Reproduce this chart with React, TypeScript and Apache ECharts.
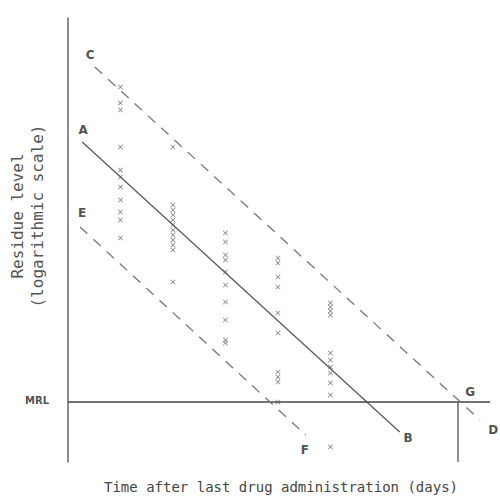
import { useEffect, useRef } from "react";
import * as echarts from "echarts";

// x: days after last drug administration; y: log residue level (arbitrary log units)
const days = [1, 2, 3, 4, 5];
const residuesDay1 = [3.75, 3.59, 3.52, 3.15, 2.92, 2.85, 2.75, 2.62, 2.5, 2.42, 2.24];
const residuesDay2 = [3.15, 2.57, 2.52, 2.47, 2.42, 2.37, 2.32, 2.27, 2.22, 2.17, 2.12, 1.8];
const residuesDay3 = [2.29, 2.2, 2.07, 2.02, 1.9, 1.77, 1.6, 1.42, 1.22, 1.19];
const residuesDay4 = [2.04, 1.99, 1.85, 1.75, 1.49, 1.29, 0.9, 0.85, 0.8, 0.6];
const residuesDay5 = [1.59, 1.55, 1.51, 1.47, 1.09, 1.02, 0.95, 0.89, 0.79, 0.67, 0.15];
const residueColumns = [residuesDay1, residuesDay2, residuesDay3, residuesDay4, residuesDay5];

const mrlLevel = 0.6;
const xMax = 8.04;
const yMax = 4.44;
const lineAB = [[0.27, 3.2], [6.32, 0.3]];
const lineCD = [[0.51, 3.95], [7.85, 0.42]];
const lineEF = [[0.23, 2.35], [4.53, 0.27]];
const withdrawalDayG = 7.43;

const letterLabels = [
  { text: "C", x: 0.42, y: 4.07 },
  { text: "A", x: 0.29, y: 3.32 },
  { text: "E", x: 0.27, y: 2.49 },
  { text: "B", x: 6.48, y: 0.24 },
  { text: "D", x: 8.1, y: 0.32 },
  { text: "F", x: 4.51, y: 0.12 },
  { text: "G", x: 7.66, y: 0.7 },
];
const mrlLabel = { text: "MRL", x: -0.59, y: 0.62 };

const yTitle = "Residue level\n(logarithmic scale)";
const xTitle = "Time after last drug administration (days)";

const xPath = "path://M0,1L1,0L5,4L9,0L10,1L6,5L10,9L9,10L5,6L1,10L0,9L4,5Z";

export default function App() {
  const ref = useRef<HTMLDivElement>(null);
  useEffect(() => {
    if (!ref.current) return;
    const chart = echarts.init(ref.current, undefined, { renderer: "svg" });
    const points: number[][] = [];
    residueColumns.forEach((col, i) => col.forEach((v) => points.push([days[i], v])));
    const lineSeries = (name: string, data: number[][], type: any, color: string, width: number) => ({
      name,
      type: "line",
      data,
      symbol: "none",
      clip: false,
      silent: true,
      lineStyle: { color, width, type },
      z: 2,
    });
    chart.setOption({
      animation: false,
      backgroundColor: "#fff",
      grid: { left: 68, right: 10, top: 18, bottom: 34 },
      xAxis: {
        type: "value",
        min: 0,
        max: xMax,
        axisLine: { show: false },
        axisTick: { show: false },
        axisLabel: { show: false },
        splitLine: { show: false },
      },
      yAxis: {
        type: "value",
        min: 0,
        max: yMax,
        axisLine: { show: true, lineStyle: { color: "#666", width: 1.5 } },
        axisTick: { show: false },
        axisLabel: { show: false },
        splitLine: { show: false },
      },
      graphic: [
        {
          type: "text",
          x: 27,
          y: 216,
          rotation: Math.PI / 2,
          style: {
            text: yTitle,
            font: "16px 'DejaVu Sans Mono'",
            fill: "#555",
            align: "center",
            verticalAlign: "middle",
            lineHeight: 20,
          },
        },
        {
          type: "text",
          x: 281,
          y: 487,
          style: {
            text: xTitle,
            font: "14px 'DejaVu Sans Mono'",
            fill: "#444",
            align: "center",
            verticalAlign: "middle",
          },
        },
      ],
      series: [
        lineSeries("MRL", [[0, mrlLevel], [xMax, mrlLevel]], "solid", "#444", 1.6),
        lineSeries("G", [[withdrawalDayG, mrlLevel], [withdrawalDayG, 0]], "solid", "#555", 1.3),
        lineSeries("AB", lineAB, "solid", "#555", 1.2),
        lineSeries("CD", lineCD, [10, 8], "#777", 1.3),
        lineSeries("EF", lineEF, [10, 8], "#777", 1.3),
        {
          name: "residues",
          type: "scatter",
          data: points,
          symbol: xPath,
          symbolSize: 5,
          itemStyle: { color: "#555" },
          z: 3,
        },
        {
          name: "labels",
          type: "scatter",
          clip: false,
          silent: true,
          symbolSize: 0.1,
          itemStyle: { color: "transparent" },
          data: [...letterLabels, mrlLabel].map((l) => ({
            value: [l.x, l.y],
            label: {
              show: true,
              position: "inside",
              formatter: l.text,
              fontFamily: "DejaVu Sans",
              fontWeight: "bold",
              fontSize: l.text === "MRL" ? 10 : 12,
              color: "#222",
            },
          })),
          z: 4,
        },
      ],
    });
    return () => chart.dispose();
  }, []);
  return (
    <div
      ref={ref}
      style={{ position: "fixed", left: 0, top: 0, width: 500, height: 496 }}
    />
  );
}
